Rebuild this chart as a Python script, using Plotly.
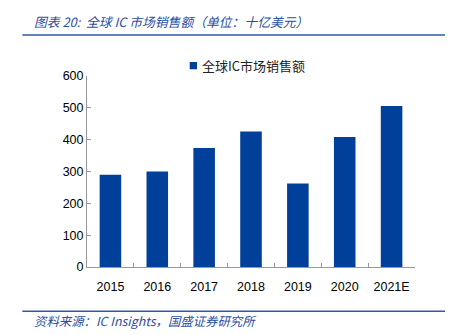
import plotly.graph_objects as go

categories = ["2015", "2016", "2017", "2018", "2019", "2020", "2021E"]
sales = [290, 300, 374, 426, 262, 408, 506]
series_name = "全球IC市场销售额"
title_text = "图表 20:  全球 IC 市场销售额（单位：十亿美元）"
source_text = "资料来源：IC Insights，国盛证券研究所"

W, H = 456, 335
L, R, T, B = 86.7, 415.0, 76.0, 266.7
pw, ph = R - L, B - T

def px(x):
    return (x - L) / pw

def py(y):
    return (B - y) / ph

bar_color = "#00409A"
text_blue = "#2B4EA0"
line_blue = "#2E58A8"
axis_gray = "#999999"

fig = go.Figure()
fig.add_trace(go.Bar(x=categories, y=sales, name=series_name,
                     marker=dict(color=bar_color, line=dict(width=0)),
                     showlegend=False))

fig.update_layout(
    width=W, height=H,
    margin=dict(l=L, r=W - R, t=T, b=H - B, pad=0),
    paper_bgcolor="white", plot_bgcolor="white",
    bargap=0.54,
    font=dict(family="Liberation Sans, Arial, sans-serif", size=12, color="#000000"),
    showlegend=False,
    xaxis=dict(showline=True, linecolor=axis_gray, linewidth=1,
               ticks="inside", ticklen=4, tickcolor=axis_gray, tickson="boundaries",
               showgrid=False, zeroline=False, ticklabelstandoff=8,
               tickfont=dict(size=12.5, color="#000000")),
    yaxis=dict(range=[0, 600], dtick=100, showline=True, linecolor=axis_gray, linewidth=1,
               ticks="inside", ticklen=4, tickcolor=axis_gray,
               showgrid=False, zeroline=False,
               tickfont=dict(size=12.5, color="#000000")),
)

# legend (manual: swatch + label)
fig.add_shape(type="rect", xref="paper", yref="paper",
              x0=px(189.5), x1=px(196.8), y0=py(69.3), y1=py(62),
              fillcolor=bar_color, line=dict(width=0))
fig.add_annotation(text=series_name, xref="paper", yref="paper",
                   x=px(199.5), y=py(65.5), xanchor="left", yanchor="middle", showarrow=False,
                   font=dict(family="Noto Sans CJK SC, sans-serif", size=13, color="#222222"))

fig.add_annotation(text="<i>" + title_text + "</i>", xref="paper", yref="paper",
                   x=px(32), y=py(22), xanchor="left", yanchor="middle", showarrow=False,
                   font=dict(family="Noto Sans CJK SC, sans-serif", size=12.8, color=text_blue))
fig.add_annotation(text="<i>" + source_text + "</i>", xref="paper", yref="paper",
                   x=px(32), y=py(321), xanchor="left", yanchor="middle", showarrow=False,
                   font=dict(family="Noto Sans CJK SC, sans-serif", size=12.4, color=text_blue))

fig.add_shape(type="line", xref="paper", yref="paper", x0=px(22), x1=px(445),
              y0=py(35), y1=py(35), line=dict(color=line_blue, width=1.5))
fig.add_shape(type="line", xref="paper", yref="paper", x0=px(22), x1=px(445),
              y0=py(311), y1=py(311), line=dict(color=line_blue, width=1.5))

fig.write_html("out.html")
